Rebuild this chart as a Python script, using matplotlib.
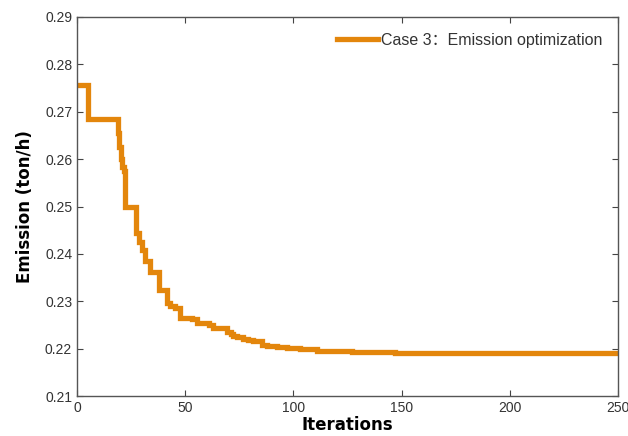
import matplotlib
matplotlib.use("Agg")
import matplotlib.pyplot as plt

# Change points of the convergence curve (iteration, emission ton/h), step-post
iterations = [0, 5, 19, 19.6, 20.4, 21, 21.6, 22.2, 27.3, 28.5, 30, 31.5, 33.7,
              37.9, 41.6, 43, 45.3, 47.6, 53, 55.5, 61, 62.8, 69.5, 71, 72.1,
              74, 76.7, 79, 81.3, 85.5, 88, 92.4, 97, 103, 111, 127, 147, 250]
emission = [0.2757, 0.2685, 0.2655, 0.2625, 0.2600, 0.2583, 0.2575, 0.2500, 0.2444,
            0.2425, 0.2408, 0.2385, 0.2362, 0.2324, 0.2297, 0.2290, 0.2286, 0.2265,
            0.2262, 0.2254, 0.2250, 0.2244, 0.2236, 0.2230, 0.2227, 0.2224, 0.2221,
            0.2218, 0.2216, 0.2208, 0.2206, 0.2204, 0.2202, 0.2200, 0.2196, 0.2193,
            0.2190, 0.2190]

legend_label = "Case 3：Emission optimization"
x_label = "Iterations"
y_label = "Emission (ton/h)"
x_ticks = [0, 50, 100, 150, 200, 250]
y_ticks = [0.21, 0.22, 0.23, 0.24, 0.25, 0.26, 0.27, 0.28, 0.29]

plt.rcParams['font.family'] = ['Liberation Sans', 'Noto Sans CJK SC', 'DejaVu Sans']

fig = plt.figure(figsize=(6.28, 4.36), dpi=100)
ax = fig.add_axes([77/628, 40/436, 541/628, 379/436])

ax.plot(iterations, emission, drawstyle='steps-post', color='#E3860C',
        linewidth=3.8, label=legend_label, solid_joinstyle='miter')

ax.set_xlim(0, 250)
ax.set_ylim(0.21, 0.29)
ax.set_xticks(x_ticks)
ax.set_yticks(y_ticks)
ax.set_yticklabels([f"{v:.2f}" for v in y_ticks])
ax.tick_params(direction='in', top=True, right=True, length=4, width=0.8,
               colors='#444444', labelcolor='#333333', labelsize=10)
for s in ax.spines.values():
    s.set_color('#555555')
    s.set_linewidth(1.0)

ax.set_xlabel(x_label, fontsize=12, fontweight='bold', family='DejaVu Sans', labelpad=1)
ax.set_ylabel(y_label, fontsize=12, fontweight='bold', family='DejaVu Sans', labelpad=8)

leg = ax.legend(loc='upper right', frameon=False, fontsize=11.5, handlelength=2.6,
                handletextpad=0.15, borderaxespad=0.6)
for t in leg.get_texts():
    t.set_color('#333333')

fig.savefig('out.png', dpi=100)
